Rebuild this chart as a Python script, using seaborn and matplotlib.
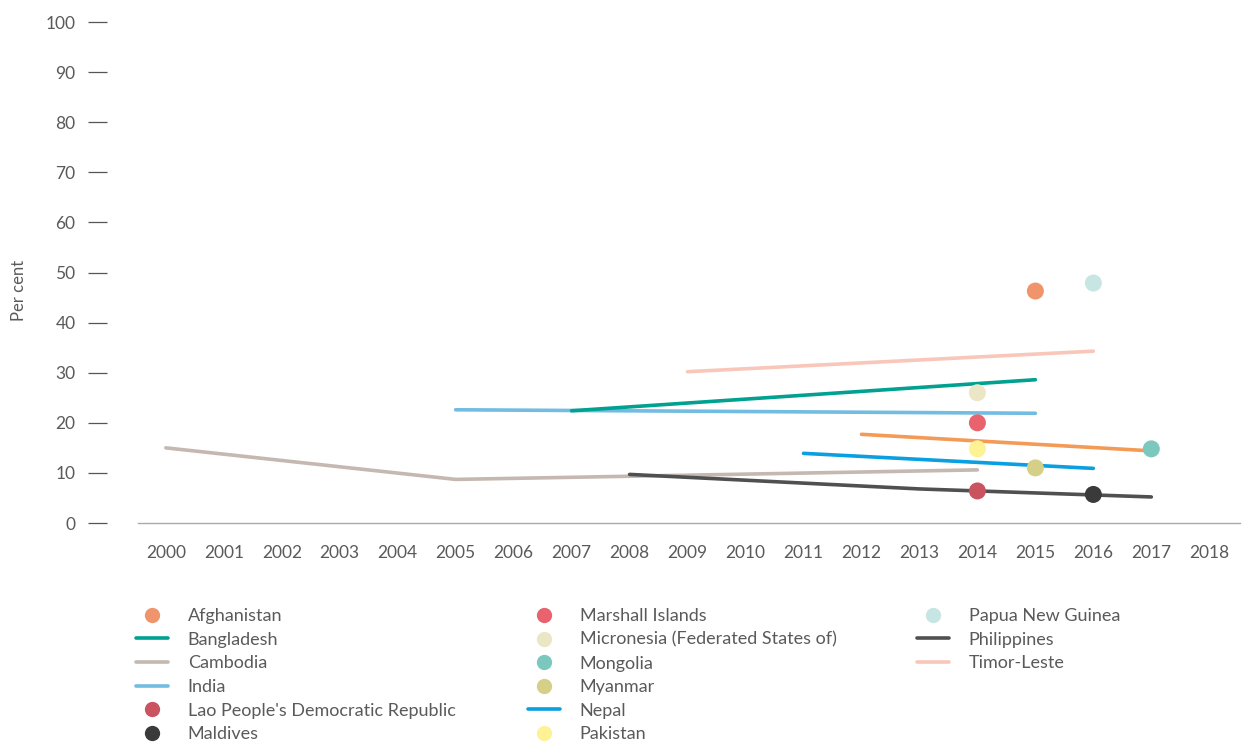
import matplotlib
matplotlib.use("Agg")
import matplotlib.pyplot as plt
from matplotlib.lines import Line2D
import seaborn as sns
import pandas as pd

# ---- data ----
years = list(range(2000, 2019))

line_series = {
    "Bangladesh": ([2007, 2015], [22.4, 28.6]),
    "Cambodia": ([2000, 2005, 2014], [15.0, 8.7, 10.6]),
    "India": ([2005, 2015], [22.6, 21.9]),
    "Nepal": ([2011, 2016], [13.9, 10.9]),
    "Philippines": ([2008, 2013, 2017], [9.7, 6.8, 5.2]),
    "Timor-Leste": ([2009, 2016], [30.2, 34.3]),
    "Other": ([2012, 2017], [17.7, 14.4]),
}

dot_series = {
    "Afghanistan": (2015, 46.3),
    "Lao People's Democratic Republic": (2014, 6.4),
    "Maldives": (2016, 5.7),
    "Marshall Islands": (2014, 20.0),
    "Micronesia (Federated States of)": (2014, 26.0),
    "Mongolia": (2017, 14.8),
    "Myanmar": (2015, 11.0),
    "Pakistan": (2014, 14.8),
    "Papua New Guinea": (2016, 47.9),
}

colors = {
    "Afghanistan": "#F0956B",
    "Bangladesh": "#00A190",
    "Cambodia": "#C4B8B0",
    "India": "#72BCE2",
    "Lao People's Democratic Republic": "#C9535E",
    "Maldives": "#3A3A3A",
    "Marshall Islands": "#E8636E",
    "Micronesia (Federated States of)": "#EBE6C6",
    "Mongolia": "#7DC8BE",
    "Myanmar": "#D6CF87",
    "Nepal": "#0A9FE0",
    "Pakistan": "#FFF295",
    "Papua New Guinea": "#C7E6E3",
    "Philippines": "#505050",
    "Timor-Leste": "#F9C7BA",
    "Other": "#F39A57",
}

legend_cols = [
    ["Afghanistan", "Bangladesh", "Cambodia", "India",
     "Lao People's Democratic Republic", "Maldives"],
    ["Marshall Islands", "Micronesia (Federated States of)", "Mongolia",
     "Myanmar", "Nepal", "Pakistan"],
    ["Papua New Guinea", "Philippines", "Timor-Leste"],
]

# ---- frames ----
line_rows = []
for name, (xs, ys) in line_series.items():
    for x, y in zip(xs, ys):
        line_rows.append({"country": name, "year": x, "value": y})
df_lines = pd.DataFrame(line_rows)

dot_rows = [{"country": k, "year": v[0], "value": v[1]} for k, v in dot_series.items()]
df_dots = pd.DataFrame(dot_rows)

# ---- plot ----
sns.set_style("white")
FONT = ["Lato", "DejaVu Sans"]
plt.rcParams["font.family"] = FONT
TXT = "#5a5a5a"

fig = plt.figure(figsize=(12.48, 7.44), dpi=100)
ax = fig.add_axes([138 / 1248, 1 - 523 / 744, (1240 - 138) / 1248, (523 - 22) / 744])

order = ["Cambodia", "India", "Bangladesh", "Timor-Leste", "Other", "Nepal", "Philippines"]
sns.lineplot(data=df_lines, x="year", y="value", hue="country", hue_order=order,
             palette=colors, linewidth=2.6, ax=ax, legend=False,
             estimator=None, sort=True, solid_capstyle="round", zorder=2)
sns.scatterplot(data=df_dots, x="year", y="value", hue="country",
                palette=colors, s=150, linewidth=0, ax=ax, legend=False, zorder=3)

ax.set_xlim(1999.52, 2018.53)
ax.set_ylim(0, 100)
ax.set_xticks(years)
ax.set_xticklabels([str(y) for y in years])
ax.set_yticks(range(0, 101, 10))

for s in ["top", "right", "left"]:
    ax.spines[s].set_visible(False)
ax.spines["bottom"].set_color("#aaaaaa")
ax.spines["bottom"].set_linewidth(1.0)

ax.tick_params(axis="x", length=0, pad=16, labelsize=12.5, labelcolor=TXT)
ax.tick_params(axis="y", length=14, width=0.9, color="#555555", pad=9,
               labelsize=12.5, labelcolor=TXT, left=True, direction="out")
# move y ticks outward away from the plot area
ax.spines["left"].set_position(("outward", 22))

ax.set_xlabel("")
ax.set_ylabel("Per cent", fontsize=12, color=TXT)
ax.yaxis.set_label_coords((27 - 138) / 1102, (523 - 290) / 501)

# ---- legend (three columns) ----
dot_names = set(dot_series.keys())
col_x = [129 / 1248, 521 / 1248, 910 / 1248]
for cx, names in zip(col_x, legend_cols):
    handles = []
    for n in names:
        if n in dot_names:
            h = Line2D([], [], linestyle="none", marker="o", markersize=11,
                       markerfacecolor=colors[n], markeredgewidth=0)
        else:
            h = Line2D([], [], color=colors[n], linewidth=2.6)
        handles.append(h)
    fig.legend(handles, names, loc="upper left",
               bbox_to_anchor=(cx, 1 - 601 / 744), frameon=False,
               fontsize=13, labelcolor=TXT, handlelength=1.75,
               handletextpad=1.1, labelspacing=0.42, borderaxespad=0)

fig.savefig("out.png", dpi=100)
